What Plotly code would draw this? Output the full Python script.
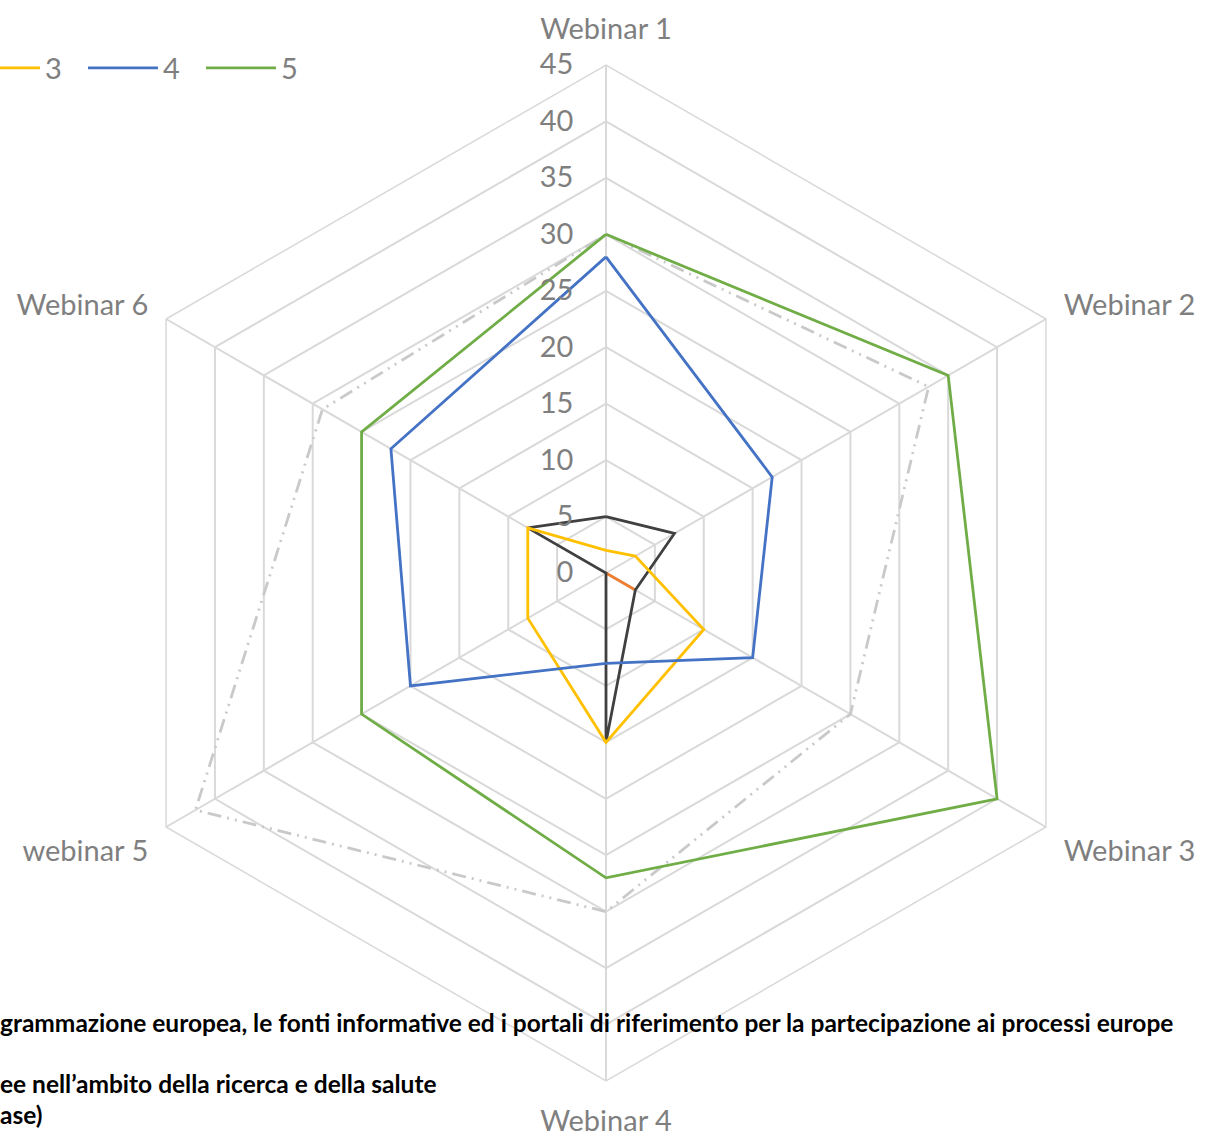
import plotly.graph_objects as go

categories = ["Webinar 1", "Webinar 2", "Webinar 3", "Webinar 4", "webinar 5", "Webinar 6"]

series_names = ["Partecipanti", "1", "2", "3", "4", "5"]
partecipanti = [30, 33, 25, 30, 42, 29]
val_1 = [0, 0, 3, 0, 0, 0]
val_2 = [5, 7, 3, 15, 0, 8]
val_3 = [2, 3, 10, 15, 8, 8]
val_4 = [28, 17, 15, 8, 20, 22]
val_5 = [30, 35, 40, 27, 25, 25]

radial_ticks = [0, 5, 10, 15, 20, 25, 30, 35, 40, 45]

footer_lines = [
    "grammazione europea, le fonti informative ed i portali di riferimento per la partecipazione ai processi europe",
    "ee nell\u2019ambito della ricerca e della salute",
    "ase)",
]

series_values = [partecipanti, val_1, val_2, val_3, val_4, val_5]
colors = ["#C9C9C9", "#ED7D31", "#404040", "#FFC000", "#4472C4", "#70AD47"]
dashes = ["14px,6px,2px,6px,2px,6px", "solid", "solid", "solid", "solid", "solid"]
# only entries 3, 4, 5 are visible in the (cropped) reference legend
in_legend = [False, False, False, True, True, True]

FONT = "Lato"
GRAY = "#7F7F7F"
GRID = "#D9D9D9"
FS = 29

fig = go.Figure()
for name, vals, col, dash, leg in zip(series_names, series_values, colors, dashes, in_legend):
    fig.add_trace(go.Scatterpolar(
        r=vals + vals[:1],
        theta=categories + categories[:1],
        mode="lines",
        name=name,
        showlegend=leg,
        line=dict(color=col, width=2.8, dash=dash),
    ))

W, H = 1205, 1139
cx, cy, R = 606, 573, 508

fig.update_layout(
    width=W, height=H,
    margin=dict(l=0, r=0, t=0, b=0, autoexpand=False),
    paper_bgcolor="white",
    plot_bgcolor="white",
    font=dict(family=FONT, color=GRAY, size=FS),
    polar=dict(
        domain=dict(x=[(cx - R) / W, (cx + R) / W], y=[1 - (cy + R) / H, 1 - (cy - R) / H]),
        bgcolor="white",
        gridshape="linear",
        radialaxis=dict(
            range=[0, 45],
            tickvals=radial_ticks,
            angle=90,
            side="counterclockwise",
            showline=False,
            gridcolor=GRID,
            gridwidth=1.5,
            ticks="outside",
            ticklen=22,
            tickcolor="rgba(0,0,0,0)",
            tickangle=90,
            tickfont=dict(family=FONT, size=FS, color=GRAY),
        ),
        angularaxis=dict(
            direction="clockwise",
            rotation=90,
            gridcolor=GRID,
            gridwidth=1.5,
            linecolor=GRID,
            linewidth=1.5,
            showline=True,
            ticks="outside",
            ticklen=14,
            tickcolor="rgba(0,0,0,0)",
            tickfont=dict(family=FONT, size=FS, color=GRAY),
        ),
    ),
    showlegend=True,
    legend=dict(
        orientation="h",
        x=-35 / W, xanchor="left",
        y=1 - 68 / H, yanchor="middle",
        bgcolor="rgba(0,0,0,0)",
        font=dict(family=FONT, size=FS, color=GRAY),
        itemwidth=70,
        entrywidthmode="pixels",
        entrywidth=33,
        traceorder="normal",
    ),
)

footer_y = [1022, 1083, 1114]
for txt, yy in zip(footer_lines, footer_y):
    fig.add_annotation(
        text=txt, xref="paper", yref="paper",
        x=-2 / W, y=1 - yy / H, xanchor="left", yanchor="middle",
        showarrow=False,
        font=dict(family=FONT, size=24.5, color="black", weight="bold"),
    )

fig.write_html(
    "out.html",
    config={"displayModeBar": False},
    post_script="document.body.style.margin='0';document.body.style.overflow='hidden';",
)
